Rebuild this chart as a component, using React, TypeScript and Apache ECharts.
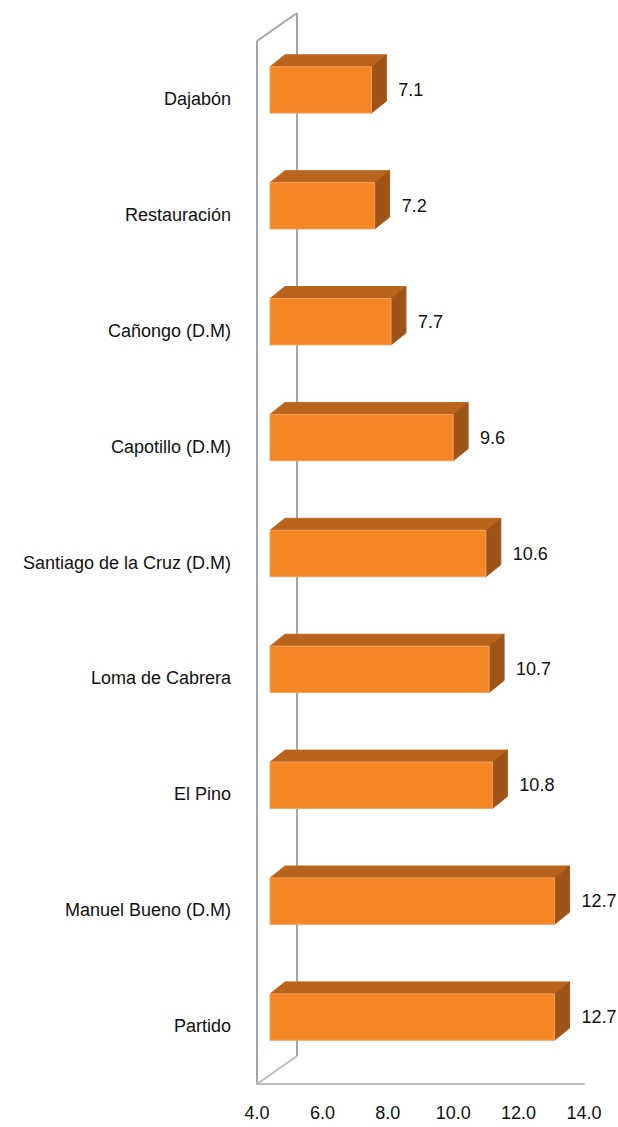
import React, { useEffect, useRef } from "react";
import * as echarts from "echarts";

const categories = [
  "Dajabón",
  "Restauración",
  "Cañongo (D.M)",
  "Capotillo (D.M)",
  "Santiago de la Cruz (D.M)",
  "Loma de Cabrera",
  "El Pino",
  "Manuel Bueno (D.M)",
  "Partido",
];
const values = [7.1, 7.2, 7.7, 9.6, 10.6, 10.7, 10.8, 12.7, 12.7];
const axisMin = 4;
const axisMax = 14;
const axisInterval = 2;

const FONT = "'Liberation Sans', Arial, sans-serif";

export default function App() {
  const ref = useRef<HTMLDivElement>(null);

  useEffect(() => {
    if (!ref.current) return;
    const chart = echarts.init(ref.current, null, { renderer: "svg" });

    const WALL_DX = 40;
    const WALL_DY = -28;
    const SHIFT_X = 13;
    const SHIFT_Y = -9;
    const DEPTH_X = 15;
    const DEPTH_Y = -12;

    const frameRender = (params: any, api: any) => {
      const cs = params.coordSys;
      const x = cs.x;
      const y0 = cs.y;
      const y1 = cs.y + cs.height;
      const stroke = { stroke: "#A6A6A6", lineWidth: 2 };
      return {
        type: "group",
        children: [
          { type: "line", shape: { x1: x, y1: y0, x2: x, y2: y1 }, style: stroke },
          { type: "line", shape: { x1: x + WALL_DX, y1: y0 + WALL_DY, x2: x + WALL_DX, y2: y1 + WALL_DY }, style: stroke },
          { type: "line", shape: { x1: x, y1: y0, x2: x + WALL_DX, y2: y0 + WALL_DY }, style: stroke },
          { type: "line", shape: { x1: x, y1: y1, x2: x + WALL_DX, y2: y1 + WALL_DY }, style: { stroke: "#BDBDBD", lineWidth: 2 } },
        ],
      };
    };

    const barRender = (params: any, api: any) => {
      const val = api.value(0);
      const idx = api.value(1);
      const base = api.coord([axisMin, idx]);
      const end = api.coord([val, idx]);
      const band = api.size([0, 1])[1];
      const h = band * 0.4;
      const cy = base[1] + SHIFT_Y;
      const x0 = base[0] + SHIFT_X;
      const x1 = end[0] + SHIFT_X;
      const yT = cy - h / 2;
      const yB = cy + h / 2;
      return {
        type: "group",
        children: [
          {
            type: "polygon",
            shape: { points: [[x0, yT], [x1, yT], [x1 + DEPTH_X, yT + DEPTH_Y], [x0 + DEPTH_X, yT + DEPTH_Y]] },
            style: { fill: "#B9631C", stroke: "#C06A22", lineWidth: 1 },
          },
          {
            type: "polygon",
            shape: { points: [[x1, yT], [x1 + DEPTH_X, yT + DEPTH_Y], [x1 + DEPTH_X, yB + DEPTH_Y], [x1, yB]] },
            style: { fill: "#9E5417", stroke: "#A85B1D", lineWidth: 1 },
          },
          {
            type: "rect",
            shape: { x: x0, y: yT, width: x1 - x0, height: h },
            style: { fill: "#F58626", stroke: "#F7A15A", lineWidth: 1 },
          },
          {
            type: "text",
            style: {
              x: x1 + DEPTH_X + 12,
              y: cy,
              text: val.toFixed(1),
              fill: "#111",
              font: `18px ${FONT}`,
              verticalAlign: "middle",
              align: "left",
            },
          },
        ],
      };
    };

    chart.setOption({
      animation: false,
      grid: { left: 257, right: 34, top: 41, bottom: 43, containLabel: false },
      xAxis: {
        type: "value",
        min: axisMin,
        max: axisMax,
        interval: axisInterval,
        axisLine: { show: true, lineStyle: { color: "#BDBDBD", width: 2 } },
        axisTick: { show: false },
        splitLine: { show: false },
        axisLabel: {
          formatter: (v: number) => v.toFixed(1),
          fontSize: 18,
          fontFamily: FONT,
          color: "#111",
          margin: 20,
        },
      },
      yAxis: {
        type: "category",
        data: categories,
        inverse: true,
        axisLine: { show: false },
        axisTick: { show: false },
        splitLine: { show: false },
        axisLabel: {
          fontSize: 18,
          fontFamily: FONT,
          color: "#111",
          margin: 26,
        },
      },
      series: [
        {
          type: "custom",
          renderItem: frameRender,
          data: [[axisMin, 0]],
          encode: { x: 0, y: 1 },
          z: 1,
          silent: true,
        },
        {
          type: "custom",
          renderItem: barRender,
          data: values.map((v, i) => [v, i]),
          encode: { x: 0, y: 1 },
          z: 2,
        },
      ],
    });

    return () => chart.dispose();
  }, []);

  return (
    <div
      ref={ref}
      style={{ position: "fixed", left: 0, top: 0, width: 618, height: 1127, background: "#fff" }}
    />
  );
}
